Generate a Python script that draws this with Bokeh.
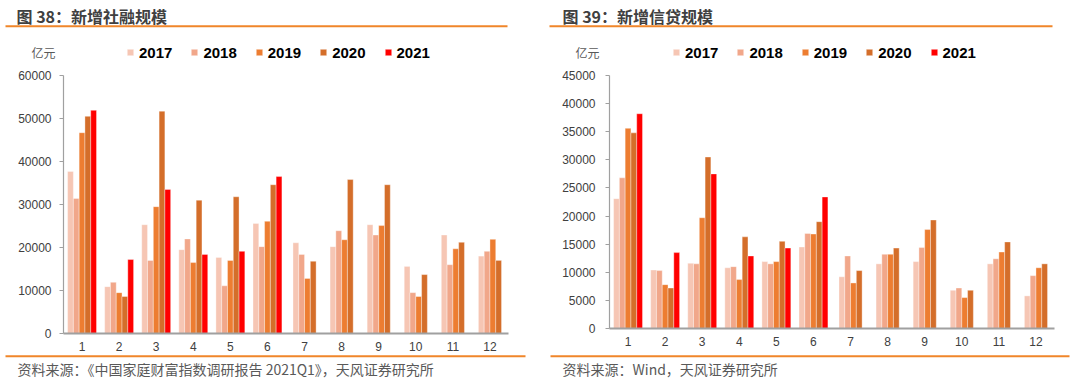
import math
from bokeh.plotting import figure
from bokeh.layouts import row
from bokeh.models import Label, BoxAnnotation, FixedTicker, Range1d
from bokeh.embed import file_html
from bokeh.resources import INLINE

NAN = float("nan")

months = [1, 2, 3, 4, 5, 6, 7, 8, 9, 10, 11, 12]
month_labels = ["1", "2", "3", "4", "5", "6", "7", "8", "9", "10", "11", "12"]
years = ["2017", "2018", "2019", "2020", "2021"]
colors = ["#F6C6B4", "#F1A78A", "#ED7D31", "#D46E2A", "#FF0000"]

# 新增社融规模 (亿元)
tsf_2017 = [37700, 10900, 25300, 19500, 17700, 25600, 21100, 20200, 25300, 15600, 22900, 18000]
tsf_2018 = [31400, 11900, 17000, 22000, 11100, 20200, 18400, 23900, 22900, 9500, 16000, 19100]
tsf_2019 = [46700, 9500, 29500, 16500, 17000, 26100, 12800, 21800, 25100, 8600, 19700, 21900]
tsf_2020 = [50500, 8600, 51700, 31000, 31800, 34600, 16800, 35800, 34600, 13700, 21200, 17000]
tsf_2021 = [51900, 17200, 33500, 18400, 19100, 36500, NAN, NAN, NAN, NAN, NAN, NAN]

# 新增信贷规模 (亿元)
loan_2017 = [23100, 10400, 11600, 10800, 11900, 14500, 9200, 11500, 11900, 6800, 11500, 5800]
loan_2018 = [26800, 10300, 11500, 11000, 11500, 16900, 12900, 13200, 14400, 7200, 12400, 9400]
loan_2019 = [35600, 7800, 19700, 8700, 11900, 16800, 8100, 13200, 17600, 5500, 13600, 10800]
loan_2020 = [34800, 7200, 30500, 16300, 15500, 19000, 10300, 14300, 19300, 6800, 15400, 11500]
loan_2021 = [38200, 13500, 27500, 12900, 14300, 23400, NAN, NAN, NAN, NAN, NAN, NAN]

BAR_W = 0.156
ORANGE = "#F0862A"
CJK = "Noto Sans CJK SC"
LAT = "Liberation Sans"
W, H = 540, 382


def panel(series, title, source, ymax, ystep, g):
    # pixel geometry of the plotting area inside the canvas
    fl, fr, ft, fb = g["fl"], g["fr"], g["ft"], g["fb"]
    xpx = (fr - fl) / 12.0
    ypx = (fb - ft) / float(ymax)
    xr = Range1d(0.5 - fl / xpx, 12.5 + (W - fr) / xpx)
    yr = Range1d(-(H - fb) / ypx, ymax + ft / ypx)
    p = figure(width=W, height=H, output_backend="svg", toolbar_location=None,
               x_range=xr, y_range=yr, min_border=0)
    p.title.visible = False
    p.outline_line_color = None
    p.xgrid.visible = False
    p.ygrid.visible = False
    p.background_fill_color = "white"
    p.border_fill_color = "white"

    present = [[not math.isnan(s[i]) for s in series] for i in range(12)]
    for k, (vals, yr_, col) in enumerate(zip(series, years, colors)):
        xs, tops = [], []
        for i, m in enumerate(months):
            if math.isnan(vals[i]):
                continue
            n = sum(present[i])
            idx = sum(present[i][:k])
            xs.append(m + (idx - (n - 1) / 2) * BAR_W)
            tops.append(vals[i])
        p.vbar(x=xs, top=tops, width=BAR_W, fill_color=col, line_color="white",
               line_width=0.6, line_alpha=0.6, legend_label=yr_)

    xa = p.xaxis[0]
    xa.fixed_location = 0
    xa.bounds = (0.5, 12.5)
    xa.ticker = FixedTicker(ticks=months)
    xa.major_label_overrides = {m: l for m, l in zip(months, month_labels)}
    xa.major_tick_out = 0
    xa.major_tick_in = 0
    xa.minor_tick_out = 0
    xa.minor_tick_in = 0
    xa.axis_line_color = "#A0A0A0"
    xa.axis_line_width = 2
    xa.major_label_standoff = 8
    xa.major_label_text_font = LAT
    xa.major_label_text_font_size = "12px"
    xa.major_label_text_color = "#404040"

    ya = p.yaxis[0]
    ya.fixed_location = 0.5
    ya.bounds = (0, ymax)
    ya.ticker = FixedTicker(ticks=list(range(0, ymax + 1, ystep)))
    ya.major_tick_out = 4
    ya.major_tick_in = 0
    ya.minor_tick_out = 0
    ya.minor_tick_in = 0
    ya.major_tick_line_color = "#A0A0A0"
    ya.axis_line_color = "#A0A0A0"
    ya.axis_line_width = 1.2
    ya.major_label_standoff = g["ystand"]
    ya.major_label_text_font = LAT
    ya.major_label_text_font_size = "12px"
    ya.major_label_text_color = "#404040"

    lg = p.legend[0]
    lg.orientation = "horizontal"
    lg.location = (g["lgx"], H - 62)
    lg.padding = 0
    lg.margin = 0
    lg.spacing = 18
    lg.border_line_color = None
    lg.background_fill_alpha = 0
    lg.glyph_width = 8
    lg.glyph_height = 8
    lg.label_height = 20
    lg.label_standoff = 5
    lg.label_text_font = LAT
    lg.label_text_font_style = "bold"
    lg.label_text_font_size = "15px"
    lg.label_text_color = "#000000"

    def lab(cx, cy, text, **kw):
        p.add_layout(Label(x=cx, y=H - cy, x_units="screen", y_units="screen", text=text,
                           text_baseline="middle", text_align="left", **kw))

    lab(g["tx"], 15.5, title, text_font=CJK, text_font_style="bold",
        text_font_size="16px", text_color="#404040")
    lab(g["ux"], 52, "亿元", text_font=CJK, text_font_size="12px", text_color="#595959")
    lab(g["sx"], 368.5, source, text_font=CJK, text_font_size="14px", text_color="#595959")

    for (x0, x1), yc in ((g["l1"], 25.7), (g["l2"], 355.7)):
        p.add_layout(BoxAnnotation(left=x0, right=x1, bottom=H - yc - 1, top=H - yc + 1,
                                   left_units="screen", right_units="screen",
                                   bottom_units="screen", top_units="screen",
                                   fill_color=ORANGE, fill_alpha=1, line_color=None))
    return p


left = panel([tsf_2017, tsf_2018, tsf_2019, tsf_2020, tsf_2021],
             "图 38：新增社融规模",
             "资料来源：《中国家庭财富指数调研报告 2021Q1》，天风证券研究所",
             60000, 10000,
             dict(fl=63, fr=508, ft=75, fb=333, ystand=8, lgx=126,
                  tx=16, ux=31, sx=17, l1=(5, 507), l2=(5, 525)))
right = panel([loan_2017, loan_2018, loan_2019, loan_2020, loan_2021],
              "图 39：新增信贷规模",
              "资料来源：Wind，天风证券研究所",
              45000, 5000,
              dict(fl=69, fr=514, ft=75, fb=328, ystand=10, lgx=132,
                   tx=22, ux=35, sx=22, l1=(9, 512), l2=(10, 529)))

layout = row(left, right)
open("out.html", "w").write(file_html(layout, INLINE))
